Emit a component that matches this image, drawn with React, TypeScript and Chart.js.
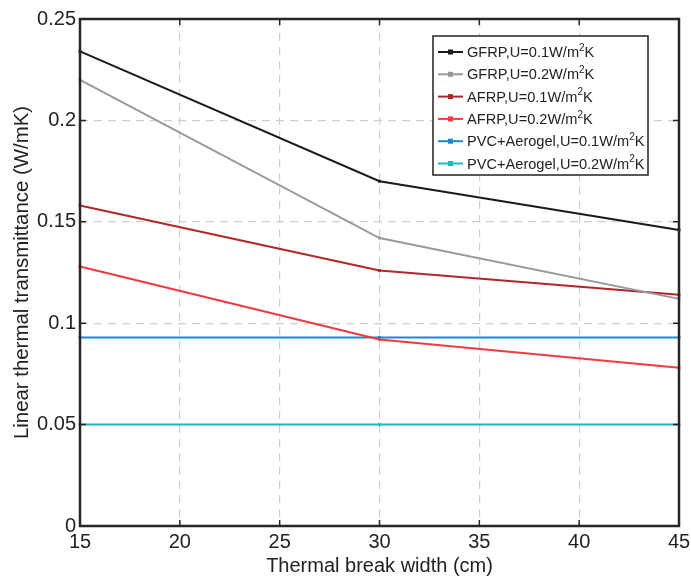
import React, { useEffect, useRef } from "react";
import { Chart, registerables } from "chart.js";

Chart.register(...registerables);

const widths = [15, 30, 45];
const gfrp01 = [0.234, 0.17, 0.146];
const gfrp02 = [0.22, 0.142, 0.112];
const afrp01 = [0.158, 0.126, 0.114];
const afrp02 = [0.128, 0.092, 0.078];
const pvc01 = [0.093, 0.093, 0.093];
const pvc02 = [0.05, 0.05, 0.05];

const seriesLabels = [
  "GFRP,U=0.1W/m²K",
  "GFRP,U=0.2W/m²K",
  "AFRP,U=0.1W/m²K",
  "AFRP,U=0.2W/m²K",
  "PVC+Aerogel,U=0.1W/m²K",
  "PVC+Aerogel,U=0.2W/m²K",
];
const seriesValues = [gfrp01, gfrp02, afrp01, afrp02, pvc01, pvc02];
const seriesColors = ["#1a1a1a", "#999999", "#b3262a", "#f03a3f", "#1e88d0", "#1fb8bf"];

const xTitle = "Thermal break width (cm)";
const yTitle = "Linear thermal transmittance (W/mK)";

const FONT = "'Liberation Sans', Arial, Helvetica, sans-serif";

const framePlugin = {
  id: "frameAndLegend",
  afterDraw(chart: any) {
    const { ctx, chartArea: ca, scales } = chart;
    ctx.save();
    // inward ticks
    ctx.strokeStyle = "#262626";
    ctx.lineWidth = 1.5;
    const tl = 6;
    scales.x.ticks.forEach((t: any) => {
      const px = scales.x.getPixelForValue(t.value);
      ctx.beginPath();
      ctx.moveTo(px, ca.bottom);
      ctx.lineTo(px, ca.bottom - tl);
      ctx.moveTo(px, ca.top);
      ctx.lineTo(px, ca.top + tl);
      ctx.stroke();
    });
    scales.y.ticks.forEach((t: any) => {
      const py = scales.y.getPixelForValue(t.value);
      ctx.beginPath();
      ctx.moveTo(ca.left, py);
      ctx.lineTo(ca.left + tl, py);
      ctx.moveTo(ca.right, py);
      ctx.lineTo(ca.right - tl, py);
      ctx.stroke();
    });
    // frame
    ctx.lineWidth = 2.5;
    ctx.strokeRect(ca.left, ca.top, ca.right - ca.left, ca.bottom - ca.top);

    // legend
    const lw = 215;
    const lh = 139;
    const lx = ca.right - 31 - lw;
    const ly = ca.top + 17;
    ctx.fillStyle = "#ffffff";
    ctx.fillRect(lx, ly, lw, lh);
    ctx.lineWidth = 1.5;
    ctx.strokeStyle = "#222";
    ctx.strokeRect(lx, ly, lw, lh);
    const fs = 14.6;
    chart.data.datasets.forEach((ds: any, i: number) => {
      const cy = ly + 16 + i * 22.3;
      ctx.strokeStyle = ds.borderColor;
      ctx.lineWidth = 2;
      ctx.beginPath();
      ctx.moveTo(lx + 5, cy);
      ctx.lineTo(lx + 30, cy);
      ctx.stroke();
      ctx.fillStyle = ds.borderColor;
      ctx.fillRect(lx + 17.5 - 2.5, cy - 2.5, 5, 5);
      const parts = String(ds.label).split("²");
      ctx.fillStyle = "#222";
      ctx.textBaseline = "middle";
      ctx.textAlign = "left";
      let x = lx + 34;
      ctx.font = `${fs}px ${FONT}`;
      ctx.fillText(parts[0], x, cy + 1);
      x += ctx.measureText(parts[0]).width;
      if (parts.length > 1) {
        ctx.font = `${Math.round(fs * 0.7)}px ${FONT}`;
        ctx.fillText("2", x, cy - 4);
        x += ctx.measureText("2").width;
        ctx.font = `${fs}px ${FONT}`;
        ctx.fillText(parts[1], x, cy + 1);
      }
    });
    ctx.restore();
  },
};

export default function App() {
  const ref = useRef<HTMLCanvasElement | null>(null);
  useEffect(() => {
    if (!ref.current) return;
    const chart = new Chart(ref.current, {
      type: "line",
      data: {
        datasets: seriesValues.map((vals, i) => ({
          label: seriesLabels[i],
          data: widths.map((w, j) => ({ x: w, y: vals[j] })),
          borderColor: seriesColors[i],
          backgroundColor: seriesColors[i],
          borderWidth: 2,
          pointStyle: "rect",
          pointRadius: 2,
          pointBorderWidth: 0,
          tension: 0,
          fill: false,
        })),
      },
      options: {
        animation: false,
        responsive: false,
        devicePixelRatio: 1,
        clip: false as any,
        layout: { padding: { left: 0, right: 12, top: 19, bottom: 0 } },
        plugins: {
          legend: { display: false },
          tooltip: { enabled: false },
        },
        scales: {
          x: {
            type: "linear",
            min: 15,
            max: 45,
            ticks: {
              stepSize: 5,
              padding: 4,
              color: "#222",
              font: { family: FONT, size: 20 },
              maxRotation: 0,
            },
            grid: {
              color: (c: any) =>
                c.tick && (c.tick.value === 15 || c.tick.value === 45) ? "rgba(0,0,0,0)" : "#cfcfcf",
              lineWidth: 1.2,
              drawTicks: false,
            },
            border: { display: false, dash: [8, 6] },
            title: {
              display: true,
              text: xTitle,
              color: "#222",
              font: { family: FONT, size: 20 },
              padding: { top: 0, bottom: 3 },
            },
            afterFit: (s: any) => {
              s.height = 55;
              s.paddingLeft = 0;
              s.paddingRight = 0;
            },
          },
          y: {
            type: "linear",
            min: 0,
            max: 0.25,
            ticks: {
              stepSize: 0.05,
              padding: 4,
              color: "#222",
              font: { family: FONT, size: 20 },
              callback: (v: any) => String(Number(Number(v).toFixed(2))),
            },
            grid: {
              color: (c: any) =>
                c.tick && (Math.abs(c.tick.value) < 1e-9 || Math.abs(c.tick.value - 0.25) < 1e-9)
                  ? "rgba(0,0,0,0)"
                  : "#cfcfcf",
              lineWidth: 1.2,
              drawTicks: false,
            },
            border: { display: false, dash: [8, 6] },
            title: {
              display: true,
              text: yTitle,
              color: "#222",
              font: { family: FONT, size: 20.4 },
              padding: { top: 10, bottom: 0 },
            },
            afterFit: (s: any) => {
              s.width = 80;
              s.paddingTop = 0;
              s.paddingBottom = 0;
            },
          },
        },
      },
      plugins: [framePlugin],
    });
    return () => chart.destroy();
  }, []);
  return (
    <div style={{ position: "absolute", left: 0, top: 0, width: 691, height: 581, background: "#fff" }}>
      <canvas ref={ref} width={691} height={581} />
    </div>
  );
}
